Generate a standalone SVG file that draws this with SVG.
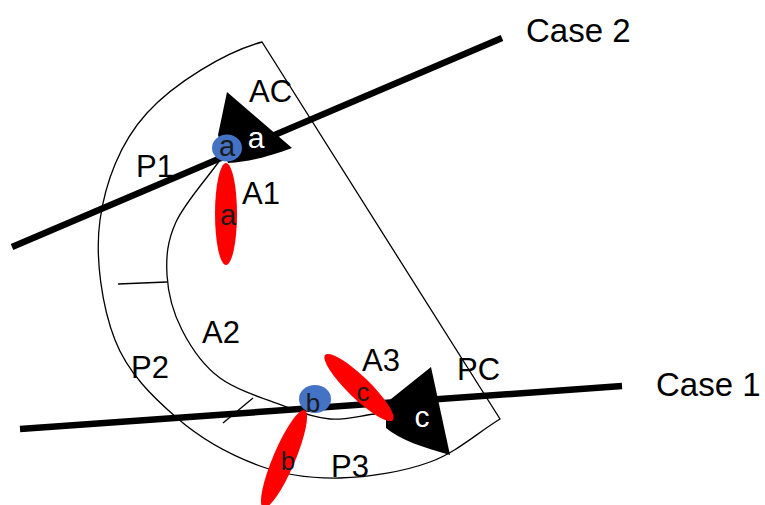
<svg xmlns="http://www.w3.org/2000/svg" width="765" height="505" viewBox="0 0 765 505">
<style>
.thin{fill:none;stroke:#000;stroke-width:1.3}
.case{stroke:#000;stroke-width:6.5;stroke-linecap:butt}
.lbl{font-family:"Liberation Sans",Arial,sans-serif;font-size:31px;fill:#000}
.big{font-family:"Liberation Sans",Arial,sans-serif;font-size:33px;fill:#000}
.in{font-family:"Liberation Sans",Arial,sans-serif;font-size:29px;text-anchor:middle;fill:#1a1a1a}
.inw{font-family:"Liberation Sans",Arial,sans-serif;font-size:30px;text-anchor:middle;fill:#fff}
.red{fill:#ff0000}
.blue{fill:#4472c4}
</style>
<rect width="765" height="505" fill="#fff"/>
<g id="sector">
<path class="thin" d="M262,42 C225,52 174,83.3 147,113 C120,142.7 105.3,182.2 100,220 C94.7,257.8 102.2,307 115,340 C127.8,373 152.8,397 177,418 C201.2,439 232.8,456 260,466 C287.2,476 311.7,478.7 340,478 C368.3,477.3 403.3,471.8 430,462 C456.7,452.2 476.7,433.3 500,419 Z"/>
</g>
<g id="inner-arc">
<path class="thin" d="M220,160 C205.3,180.7 184.8,202.8 176,222 C167.2,241.2 166,257 167,275 C168,293 173.2,312.8 182,330 C190.8,347.2 202.5,365.2 220,378 C237.5,390.8 268.7,400.2 287,407 C305.3,413.8 315.3,417.8 330,419 C344.7,420.2 360,415.7 375,414"/>
<line class="thin" x1="118" y1="284" x2="167" y2="282"/>
<line class="thin" x1="223" y1="423" x2="253" y2="398"/>
</g>
<g id="connectors">
<line id="case2-line" class="case" x1="12" y1="247" x2="502" y2="38"/>
<line id="case1-line" class="case" x1="20" y1="429" x2="622" y2="386"/>
</g>
<g id="node-AC">
<path d="M227,92 L292,148 C270,156 250,162 228,163 L218,135 Z" fill="#000"/>
<text class="inw" x="256" y="148">a</text>
</g>
<g id="node-PC">
<path d="M431,367 L450,455 C425,448 400,440 386,428 L386,403 Z" fill="#000"/>
<text class="inw" x="422" y="427">c</text>
</g>
<g id="node-A1">
<ellipse class="red" cx="226" cy="214" rx="11" ry="51"/>
<text class="in" x="228" y="225">a</text>
</g>
<g id="node-A3">
<ellipse class="red" cx="359" cy="387.5" rx="11" ry="47" transform="rotate(-46 359 387.5)"/>
<text class="in" x="363" y="401" style="font-size:26px">c</text>
</g>
<g id="node-Bred">
<ellipse class="red" cx="284" cy="459" rx="11" ry="53" transform="rotate(23 284 459)"/>
<text class="in" x="288" y="470" style="font-size:26px">b</text>
</g>
<g id="node-a">
<ellipse class="blue" cx="227" cy="148" rx="15" ry="13.5"/>
<text class="in" x="227" y="156">a</text>
</g>
<g id="node-b">
<ellipse class="blue" cx="315" cy="399" rx="16" ry="14"/>
<text class="in" x="313" y="412" style="font-size:26px">b</text>
</g>
<g id="labels">
<text class="big" x="526" y="42">Case 2</text>
<text class="big" x="656" y="396">Case 1</text>
<text class="lbl" x="249" y="102">AC</text>
<text class="lbl" x="136" y="177">P1</text>
<text class="lbl" x="242" y="204">A1</text>
<text class="lbl" x="202" y="343">A2</text>
<text class="lbl" x="131" y="378">P2</text>
<text class="lbl" x="362" y="371">A3</text>
<text class="lbl" x="457" y="380">PC</text>
<text class="lbl" x="331" y="477">P3</text>
</g>
</svg>
